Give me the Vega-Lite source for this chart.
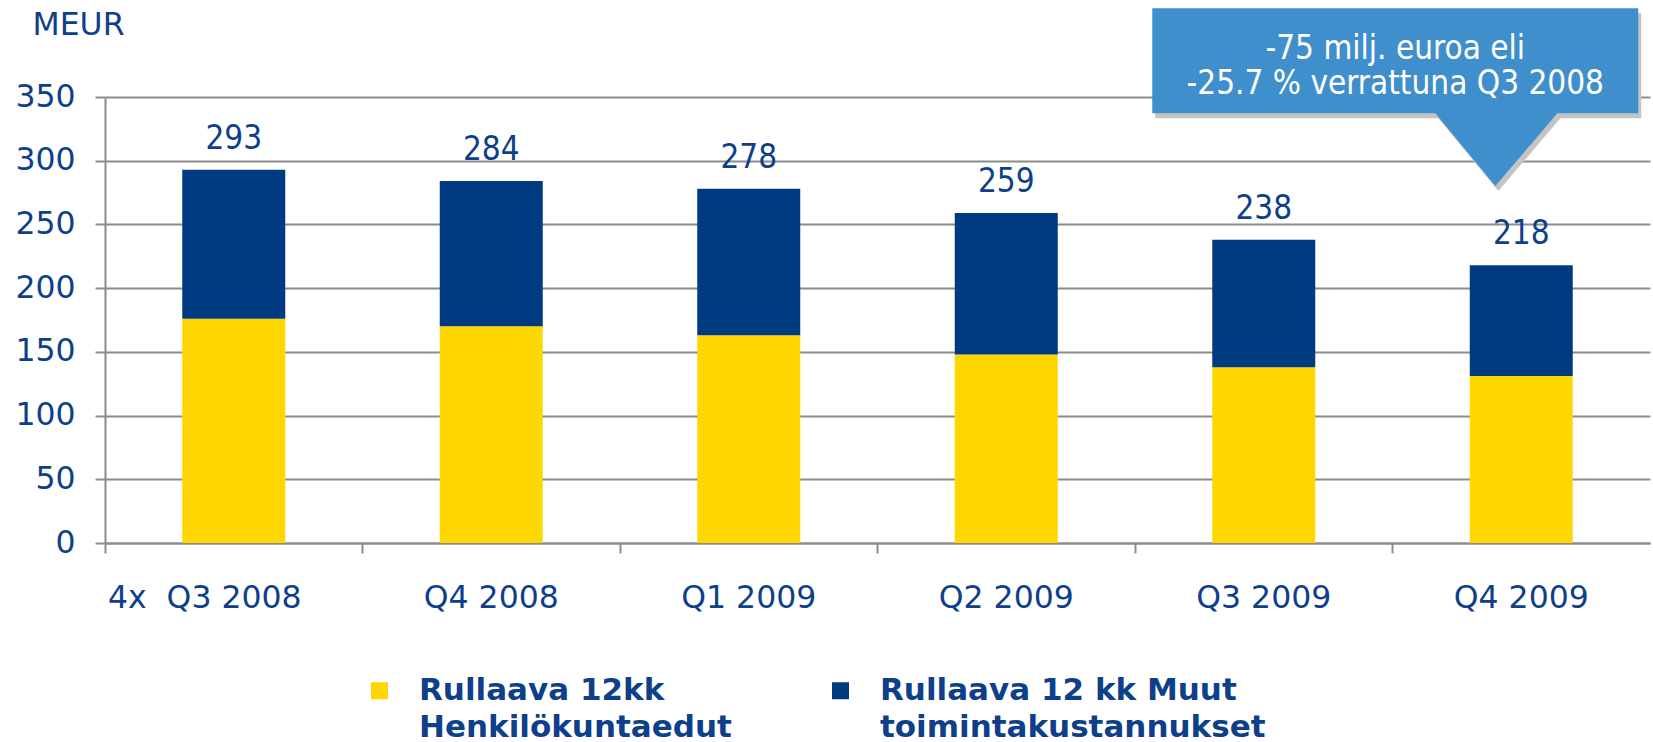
{
  "$schema": "https://vega.github.io/schema/vega-lite/v6.json",
  "width": 1545,
  "height": 446,
  "autosize": "none",
  "padding": {"left": 105, "top": 97, "right": 3, "bottom": 199},
  "background": "#ffffff",
  "config": {"view": {"stroke": null}, "font": "DejaVu Sans"},
  "datasets": {
    "costs": [
      {"quarter": "4x\u00a0\u00a0Q3 2008", "series": "Rullaava 12kk Henkilökuntaedut", "value": 176},
      {"quarter": "4x\u00a0\u00a0Q3 2008", "series": "Rullaava 12 kk Muut toimintakustannukset", "value": 117},
      {"quarter": "Q4 2008", "series": "Rullaava 12kk Henkilökuntaedut", "value": 170},
      {"quarter": "Q4 2008", "series": "Rullaava 12 kk Muut toimintakustannukset", "value": 114},
      {"quarter": "Q1 2009", "series": "Rullaava 12kk Henkilökuntaedut", "value": 163},
      {"quarter": "Q1 2009", "series": "Rullaava 12 kk Muut toimintakustannukset", "value": 115},
      {"quarter": "Q2 2009", "series": "Rullaava 12kk Henkilökuntaedut", "value": 148},
      {"quarter": "Q2 2009", "series": "Rullaava 12 kk Muut toimintakustannukset", "value": 111},
      {"quarter": "Q3 2009", "series": "Rullaava 12kk Henkilökuntaedut", "value": 138},
      {"quarter": "Q3 2009", "series": "Rullaava 12 kk Muut toimintakustannukset", "value": 100},
      {"quarter": "Q4 2009", "series": "Rullaava 12kk Henkilökuntaedut", "value": 131},
      {"quarter": "Q4 2009", "series": "Rullaava 12 kk Muut toimintakustannukset", "value": 87}
    ],
    "totals": [
      {"quarter": "4x\u00a0\u00a0Q3 2008", "value": 293},
      {"quarter": "Q4 2008", "value": 284},
      {"quarter": "Q1 2009", "value": 278},
      {"quarter": "Q2 2009", "value": 259},
      {"quarter": "Q3 2009", "value": 238},
      {"quarter": "Q4 2009", "value": 218}
    ],
    "note": [
      {"quarter": "Q4 2009", "value": 378.5, "line1": "-75 milj. euroa eli", "line2": "-25.7 % verrattuna Q3 2008"}
    ]
  },
  "encoding": {
    "x": {
      "field": "quarter",
      "type": "nominal",
      "sort": ["4x\u00a0\u00a0Q3 2008", "Q4 2008", "Q1 2009", "Q2 2009", "Q3 2009", "Q4 2009"],
      "title": null,
      "scale": {"paddingInner": 0, "paddingOuter": 0},
      "axis": {
        "labelAngle": 0,
        "labelFont": "DejaVu Sans",
        "labelFontSize": 31.5,
        "labelColor": "#0E3F8A",
        "labelPadding": 29,
        "labelLimit": 500,
        "labelOffset": {"condition": {"test": "indexof(datum.value, '4x') == 0", "value": -29}, "value": 0},
        "bandPosition": 0,
        "tickSize": 10,
        "tickWidth": 2,
        "tickColor": "#8C8C8C",
        "domainColor": "#8C8C8C",
        "domainWidth": 2,
        "grid": false
      }
    },
    "y": {
      "field": "value",
      "type": "quantitative",
      "title": "MEUR",
      "scale": {"domain": [0, 350], "nice": false, "zero": true},
      "axis": {
        "values": [0, 50, 100, 150, 200, 250, 300, 350],
        "grid": true,
        "gridColor": "#8C8C8C",
        "gridWidth": 2,
        "domainColor": "#8C8C8C",
        "domainWidth": 2,
        "tickColor": "#8C8C8C",
        "tickWidth": 2,
        "tickSize": 10,
        "labelFont": "DejaVu Sans",
        "labelFontSize": 31.5,
        "labelColor": "#0E3F8A",
        "labelPadding": 20,
        "titleAngle": 0,
        "titleAlign": "left",
        "titleBaseline": "middle",
        "titleX": -73,
        "titleY": -72,
        "titleFont": "DejaVu Sans",
        "titleFontSize": 31.5,
        "titleFontWeight": "normal",
        "titleColor": "#0E3F8A"
      }
    }
  },
  "layer": [
    {
      "data": {"name": "costs"},
      "mark": {"type": "bar", "width": {"band": 0.4}},
      "encoding": {
        "color": {
          "field": "series",
          "type": "nominal",
          "scale": {
            "domain": ["Rullaava 12kk Henkilökuntaedut", "Rullaava 12 kk Muut toimintakustannukset"],
            "range": ["#FFD700", "#003A80"]
          },
          "legend": {
            "orient": "none",
            "legendX": 259,
            "legendY": 578,
            "direction": "horizontal",
            "columns": 2,
            "title": null,
            "padding": 0,
            "symbolType": "square",
            "symbolSize": 289,
            "symbolStrokeWidth": 0,
            "labelFont": "DejaVu Sans",
            "labelFontWeight": "bold",
            "labelFontSize": 31,
            "labelColor": "#0E3F8A",
            "labelBaseline": "middle",
            "labelLimit": 700,
            "labelOffset": 24,
            "columnPadding": 93,
            "labelExpr": "datum.label == 'Rullaava 12kk Henkilökuntaedut' ? ['Rullaava 12kk', 'Henkilökuntaedut'] : ['Rullaava 12 kk Muut', 'toimintakustannukset']",
            "encode": {
              "labels": {"update": {"lineHeight": {"value": 37}}}
            }
          }
        },
        "order": {"field": "series", "type": "nominal", "sort": "descending"}
      }
    },
    {
      "data": {"name": "totals"},
      "mark": {
        "type": "text",
        "dy": -31,
        "baseline": "middle",
        "font": "DejaVu Sans Condensed",
        "fontSize": 33,
        "color": "#0E3F8A"
      },
      "encoding": {"text": {"field": "value", "type": "quantitative"}}
    },
    {
      "data": {"name": "note"},
      "mark": {
        "type": "point",
        "shape": "M-1,-0.216L1,-0.216L1,0.216L0.667,0.216L0.412,0.516L0.165,0.216L-1,0.216Z",
        "size": 236196,
        "filled": true,
        "opacity": 1,
        "strokeWidth": 0,
        "color": "#C4C4C4",
        "xOffset": -123,
        "yOffset": 5
      }
    },
    {
      "data": {"name": "note"},
      "mark": {
        "type": "point",
        "shape": "M-1,-0.216L1,-0.216L1,0.216L0.667,0.216L0.412,0.516L0.165,0.216L-1,0.216Z",
        "size": 236196,
        "filled": true,
        "opacity": 1,
        "strokeWidth": 0,
        "color": "#3F8FCD",
        "xOffset": -126
      }
    },
    {
      "data": {"name": "note"},
      "mark": {
        "type": "text",
        "dx": -126,
        "dy": -12,
        "align": "center",
        "baseline": "middle",
        "font": "DejaVu Sans Condensed",
        "fontSize": 33,
        "color": "#FFFFFF"
      },
      "encoding": {"text": {"field": "line1", "type": "nominal"}}
    },
    {
      "data": {"name": "note"},
      "mark": {
        "type": "text",
        "dx": -126,
        "dy": 23,
        "align": "center",
        "baseline": "middle",
        "font": "DejaVu Sans Condensed",
        "fontSize": 33,
        "color": "#FFFFFF"
      },
      "encoding": {"text": {"field": "line2", "type": "nominal"}}
    }
  ]
}
